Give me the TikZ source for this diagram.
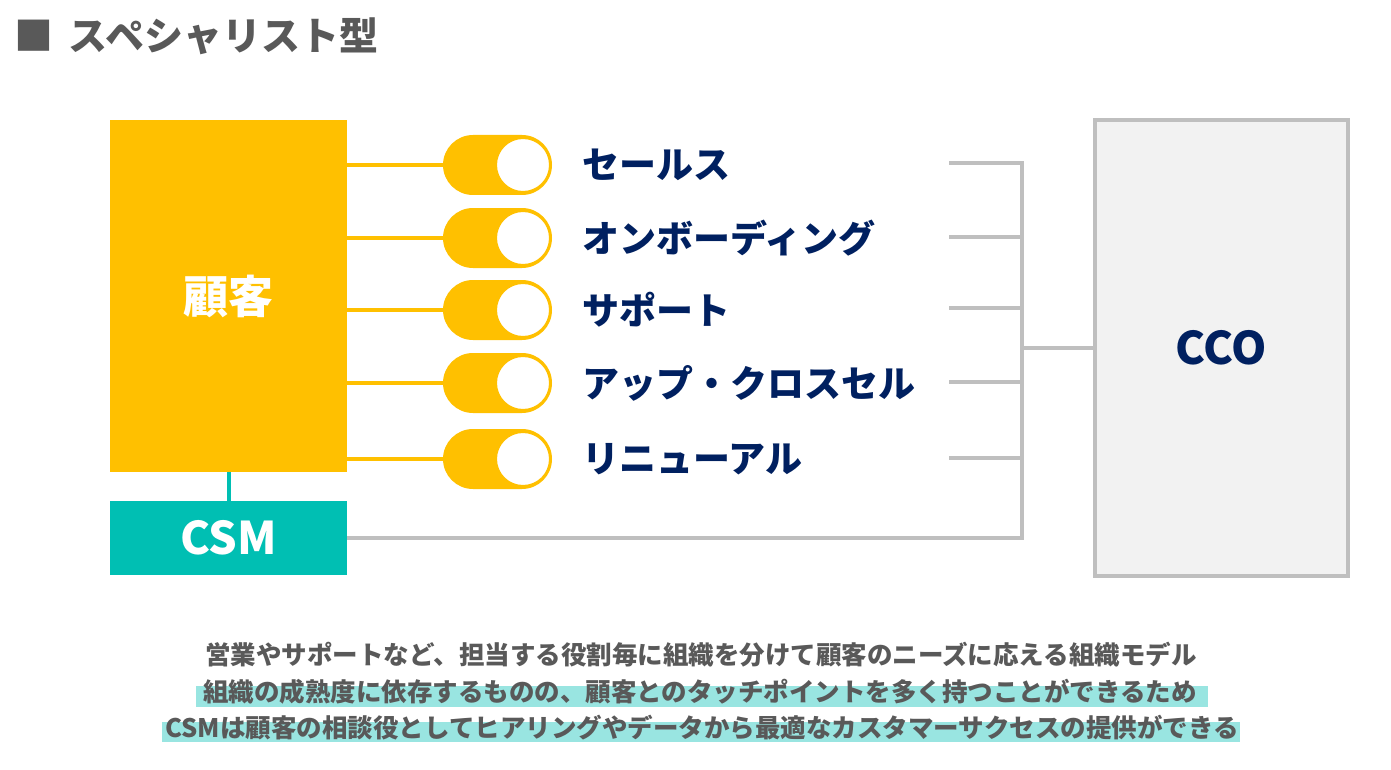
\documentclass[tikz,border=0pt]{standalone}
\usepackage{fontspec}
\setmainfont{Noto Sans CJK JP}
\usetikzlibrary{positioning,shapes.misc}
\definecolor{cs_yellow}{RGB}{255,192,0}
\definecolor{cs_teal}{RGB}{0,191,179}
\definecolor{cs_navy}{RGB}{0,32,96}
\definecolor{cs_gray}{RGB}{89,89,89}
\definecolor{cs_line}{RGB}{191,191,191}
\definecolor{cs_panel}{RGB}{242,242,242}

\begin{document}
\begin{tikzpicture}[x=1pt, y=-1pt, font=\bfseries,
    pill/.style={fill=cs_yellow, rounded rectangle, minimum width=109pt,
      minimum height=60pt, inner sep=0pt},
    knob/.style={circle, fill=white, draw=cs_yellow, line width=2pt,
      minimum size=54pt, inner sep=0pt},
    rowtext/.style={anchor=west, inner sep=0pt, text=cs_navy,
      font=\bfseries\fontsize{37}{40}\selectfont},
    bigtext/.style={font=\bfseries\fontsize{45}{48}\selectfont},
    gline/.style={cs_line, line width=4pt},
    note/.style={inner sep=0pt, text=cs_gray,
      font=\bfseries\fontsize{25.5}{28}\selectfont}]
  \useasboundingbox (0,0) rectangle (1391,770);

  \node[anchor=west, inner sep=0pt, text=cs_gray,
    font=\bfseries\fontsize{39}{42}\selectfont] (title) at (14,36)
    {■\hspace{0.4em}スペシャリスト型};

  \node[bigtext, fill=cs_yellow, text=white, minimum width=237pt,
    minimum height=352pt, inner sep=0pt] (cust) at (228.5,296) {顧客};
  \node[bigtext, fill=cs_teal, text=white, minimum width=237pt,
    minimum height=74pt, inner sep=0pt] (csm) at (228.5,538) {CSM};
  \draw[cs_teal, line width=4pt] (cust) -- (csm);

  \foreach \y/\txt [count=\i] in {165/セールス, 238/オンボーディング, 310/サポート,
      383/アップ・クロスセル, 459/リニューアル}{
    \node[pill] (t\i) at (497.5,\y) {};
    \node[knob] (k\i) at (523,\y) {};
    \node[rowtext] (s\i) at (582,\y) {\txt};
    \draw[cs_yellow, line width=4pt] (cust.east |- t\i) -- (t\i.west);
  }

  \node[bigtext, draw=cs_line, line width=4pt, fill=cs_panel, text=cs_navy,
    minimum width=253pt, minimum height=456pt, inner sep=0pt] (cco) at (1221.5,348) {CCO};

  \coordinate (bus) at (1022,163);
  \foreach \y [count=\i] in {163,237,308,382,458}
    \coordinate (g\i) at (949,\y);
  \draw[gline] (g1) -- (bus |- g1) -- (bus |- csm) -- (csm.east);
  \foreach \i in {2,...,5}
    \draw[gline] (g\i) -- (bus |- g\i);
  \draw[gline] (bus |- cco) -- (cco.west);

  \fill[cs_teal!40] (196,686) rectangle (1208,707);
  \fill[cs_teal!40] (162,722) rectangle (1240,742);
  \node[note] (n1) at (701,655)
    {営業やサポートなど、担当する役割毎に組織を分けて顧客のニーズに応える組織モデル};
  \node[note] (n2) at (700,692)
    {組織の成熟度に依存するものの、顧客とのタッチポイントを多く持つことができるため};
  \node[note] (n3) at (702,728)
    {CSMは顧客の相談役としてヒアリングやデータから最適なカスタマーサクセスの提供ができる};
\end{tikzpicture}
\end{document}
